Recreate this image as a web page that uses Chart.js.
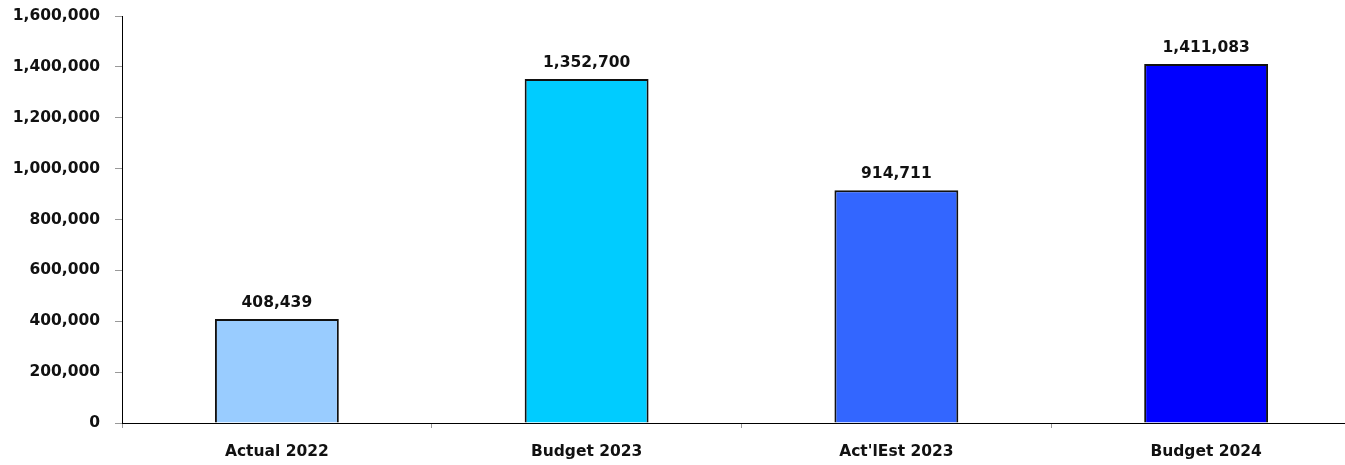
<!DOCTYPE html>
<html>
<head>
<meta charset="utf-8">
<script src="https://cdn.jsdelivr.net/npm/chart.js@4/dist/chart.umd.min.js"></script>
<style>
html,body{margin:0;padding:0;background:#fff;overflow:hidden;}
#wrap{width:1361px;height:465px;position:relative;}
</style>
</head>
<body>
<div id="wrap"><canvas id="c"></canvas></div>
<script>
const categories = ["Actual 2022", "Budget 2023", "Act'lEst 2023", "Budget 2024"];
const values = [408439, 1352700, 914711, 1411083];
const barColors = ["#99CCFF", "#00CCFF", "#3366FF", "#0000FF"];
const yMin = 0, yMax = 1600000, yStep = 200000;

const FONT = "'DejaVu Sans', sans-serif";
const fmt = v => v.toLocaleString('en-US');

const valueLabels = {
  id: 'valueLabels',
  afterDatasetsDraw(chart) {
    const ctx = chart.ctx;
    const meta = chart.getDatasetMeta(0);
    ctx.save();
    ctx.font = "bold 15.5px " + FONT;
    ctx.fillStyle = "#111";
    ctx.textAlign = "center";
    ctx.textBaseline = "middle";
    meta.data.forEach((bar, i) => {
      ctx.fillText(fmt(values[i]), bar.x, bar.y - 16);
    });
    ctx.restore();
  }
};

new Chart(document.getElementById('c'), {
  type: 'bar',
  data: {
    labels: categories,
    datasets: [{
      data: values,
      backgroundColor: barColors,
      borderColor: "#111",
      borderWidth: 2,
      categoryPercentage: 1.0,
      barPercentage: 0.4
    }]
  },
  options: {
    responsive: true,
    maintainAspectRatio: false,
    animation: false,
    layout: { padding: { top: 16, right: 0, left: 0, bottom: 0 } },
    plugins: { legend: { display: false }, tooltip: { enabled: false } },
    scales: {
      x: {
        grid: { display: true, drawOnChartArea: false, drawTicks: true, tickLength: 5, color: "#999", offset: true },
        border: { display: true, color: "#000", width: 1 },
        ticks: { font: { family: FONT, size: 15.5, weight: 'bold' }, color: "#111", padding: 15, maxRotation: 0 },
        afterFit(scale) { scale.height = 42; scale.paddingLeft = 0; scale.paddingRight = 0; }
      },
      y: {
        min: yMin, max: yMax,
        grid: { display: true, drawOnChartArea: false, drawTicks: true, tickLength: 7, color: "#999" },
        border: { display: true, color: "#000", width: 1 },
        ticks: { stepSize: yStep, font: { family: FONT, size: 15.5, weight: 'bold' }, color: "#111", padding: 15,
                 callback: v => fmt(v) },
        afterFit(scale) { scale.width = 122; scale.paddingTop = 0; scale.paddingBottom = 0; }
      }
    }
  },
  plugins: [valueLabels]
});
</script>
</body>
</html>
